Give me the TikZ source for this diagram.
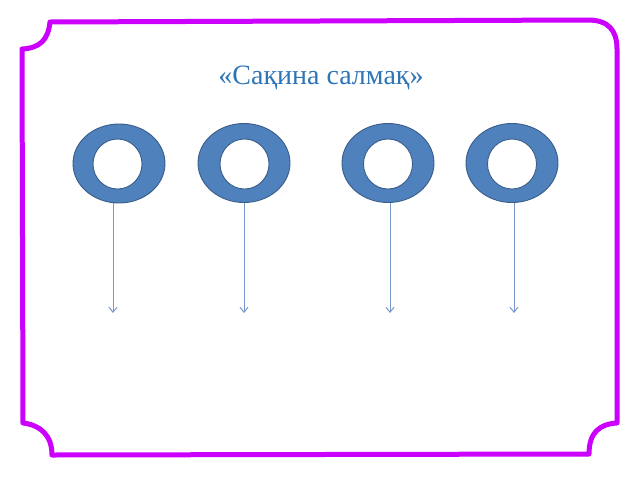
\documentclass[tikz,border=0pt]{standalone}
\usepackage{fontspec}
\setmainfont{Liberation Serif}
\usetikzlibrary{shapes.geometric,arrows.meta}
\definecolor{framec}{RGB}{204,0,255}
\definecolor{titlec}{RGB}{46,117,182}
\definecolor{ringfill}{RGB}{79,129,189}
\definecolor{ringedge}{RGB}{56,93,138}
\definecolor{linec}{RGB}{120,152,205}
\tikzset{
  frame/.style={draw=framec, line width=5pt, line join=round, line cap=round},
  ring/.style={ellipse, draw=ringedge, fill=ringfill, line width=0.9pt, minimum width=92pt, minimum height=79pt, inner sep=0pt, outer sep=0pt},
  hole/.style={ellipse, draw=ringedge, fill=white, line width=0.9pt, minimum width=49pt, minimum height=50pt, inner sep=0pt, outer sep=0pt},
  pointer/.style={draw=linec, line width=0.9pt, -{Straight Barb[length=5pt,width=8pt,line width=1pt]}},
  title/.style={text=titlec, font=\fontsize{28}{32}\selectfont, inner sep=0pt}
}
\begin{document}
\begin{tikzpicture}[x=1pt,y=-1pt]
\useasboundingbox[fill=white] (0,0) rectangle (640,480);
% frame
\draw[frame] (50,22) -- (588,20)
  .. controls (608,20) and (617,30) .. (617,49) -- (617,423)
  .. controls (600,424) and (589,432) .. (589,454) -- (52,455)
  .. controls (52,435) and (40,425) .. (23,423) -- (22,49)
  .. controls (40,48) and (48,40) .. (50,22) -- cycle;
% title
\node[title] (t) at (321,78) {«Сақина салмақ»};
% rings
\node[ring] (r1) at (119,163.5) {};
\node[hole] (h1) at (117.5,164) {};
\node[ring] (r2) at (244,163) {};
\node[hole] (h2) at (244.5,164) {};
\node[ring] (r3) at (388,163) {};
\node[hole] (h3) at (388,164) {};
\node[ring] (r4) at (512,163) {};
\node[hole] (h4) at (512,164) {};
% arrow ends
\coordinate (e1) at (113,313);
\coordinate (e2) at (244,313);
\coordinate (e3) at (390,313);
\coordinate (e4) at (514,313);
\draw[pointer] (r1.south -| e1) -- (e1);
\draw[pointer] (r2.south -| e2) -- (e2);
\draw[pointer] (r3.south -| e3) -- (e3);
\draw[pointer] (r4.south -| e4) -- (e4);
\end{tikzpicture}
\end{document}
